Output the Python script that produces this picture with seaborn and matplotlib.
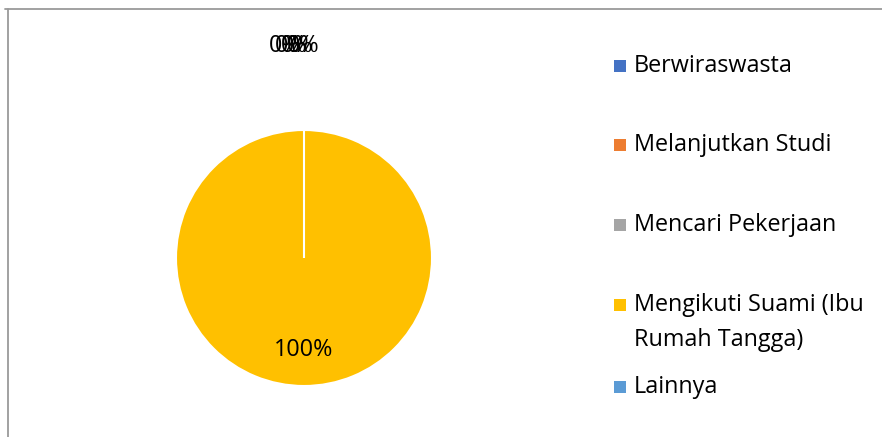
import matplotlib
matplotlib.use("Agg")
import matplotlib.pyplot as plt
import seaborn as sns
from matplotlib.patches import Rectangle
from matplotlib.lines import Line2D

categories = ["Berwiraswasta", "Melanjutkan Studi", "Mencari Pekerjaan",
              "Mengikuti Suami (Ibu Rumah Tangga)", "Lainnya"]
legend_labels = ["Berwiraswasta", "Melanjutkan Studi", "Mencari Pekerjaan",
                 "Mengikuti Suami (Ibu\nRumah Tangga)", "Lainnya"]
values = [0, 0, 0, 100, 0]
colors = ["#4472C4", "#ED7D31", "#A5A5A5", "#FFC000", "#5B9BD5"]

sns.set_theme(style="white")
plt.rcParams["font.family"] = ["Open Sans", "DejaVu Sans"]
FS = 16.8

W, H = 882, 437
fig = plt.figure(figsize=(W / 100, H / 100), dpi=100)
fig.patch.set_facecolor("white")

# pie axes: centre (304, 258), radius 128 px
cx, cy, r = 304, 258, 128
ax = fig.add_axes([(cx - r) / W, (H - cy - r) / H, 2 * r / W, 2 * r / H])
wedges, texts, autotexts = ax.pie(
    values, colors=colors, startangle=90, counterclock=False,
    autopct=lambda p: f"{p:.0f}%", pctdistance=0.72, radius=1.0,
    wedgeprops=dict(edgecolor="white", linewidth=1.5),
    textprops=dict(fontsize=FS, color="#000000"))
ax.set_xlim(-1, 1)
ax.set_ylim(-1, 1)
ax.set_aspect("equal")
ax.axis("off")

# zero-valued labels placed above the pie (overlapping, as in the original)
zero_offsets = [-0.15, -0.10, -0.05, -0.01]
k = 0
for v, t in zip(values, autotexts):
    if v == 0:
        t.set_position((zero_offsets[k], 1.66))
        k += 1

# legend drawn manually to mirror the original spacing
legend_y = [66, 145, 225, 305, 387]
sq = 12
for lab, col, y in zip(legend_labels, colors, legend_y):
    fig.add_artist(Rectangle((614 / W, (H - y - sq / 2) / H), sq / W, sq / H,
                             transform=fig.transFigure, facecolor=col,
                             edgecolor="none"))
    if "\n" in lab:
        fig.text(634 / W, (H - y - 17.5) / H, lab, fontsize=FS,
                 color="#000000", va="center", ha="left", linespacing=1.62)
    else:
        fig.text(634 / W, (H - y) / H, lab, fontsize=FS, color="#000000",
                 va="center", ha="left")

# chart frame (cropped)
frame_col = "#9a9a9a"
fig.add_artist(Line2D([5 / W, 1.0], [(H - 9) / H, (H - 9) / H],
                      transform=fig.transFigure, color=frame_col, lw=1.3))
fig.add_artist(Line2D([8 / W, 8 / W], [0, (H - 9) / H],
                      transform=fig.transFigure, color=frame_col, lw=1.3))

fig.savefig("out.png", dpi=100)
